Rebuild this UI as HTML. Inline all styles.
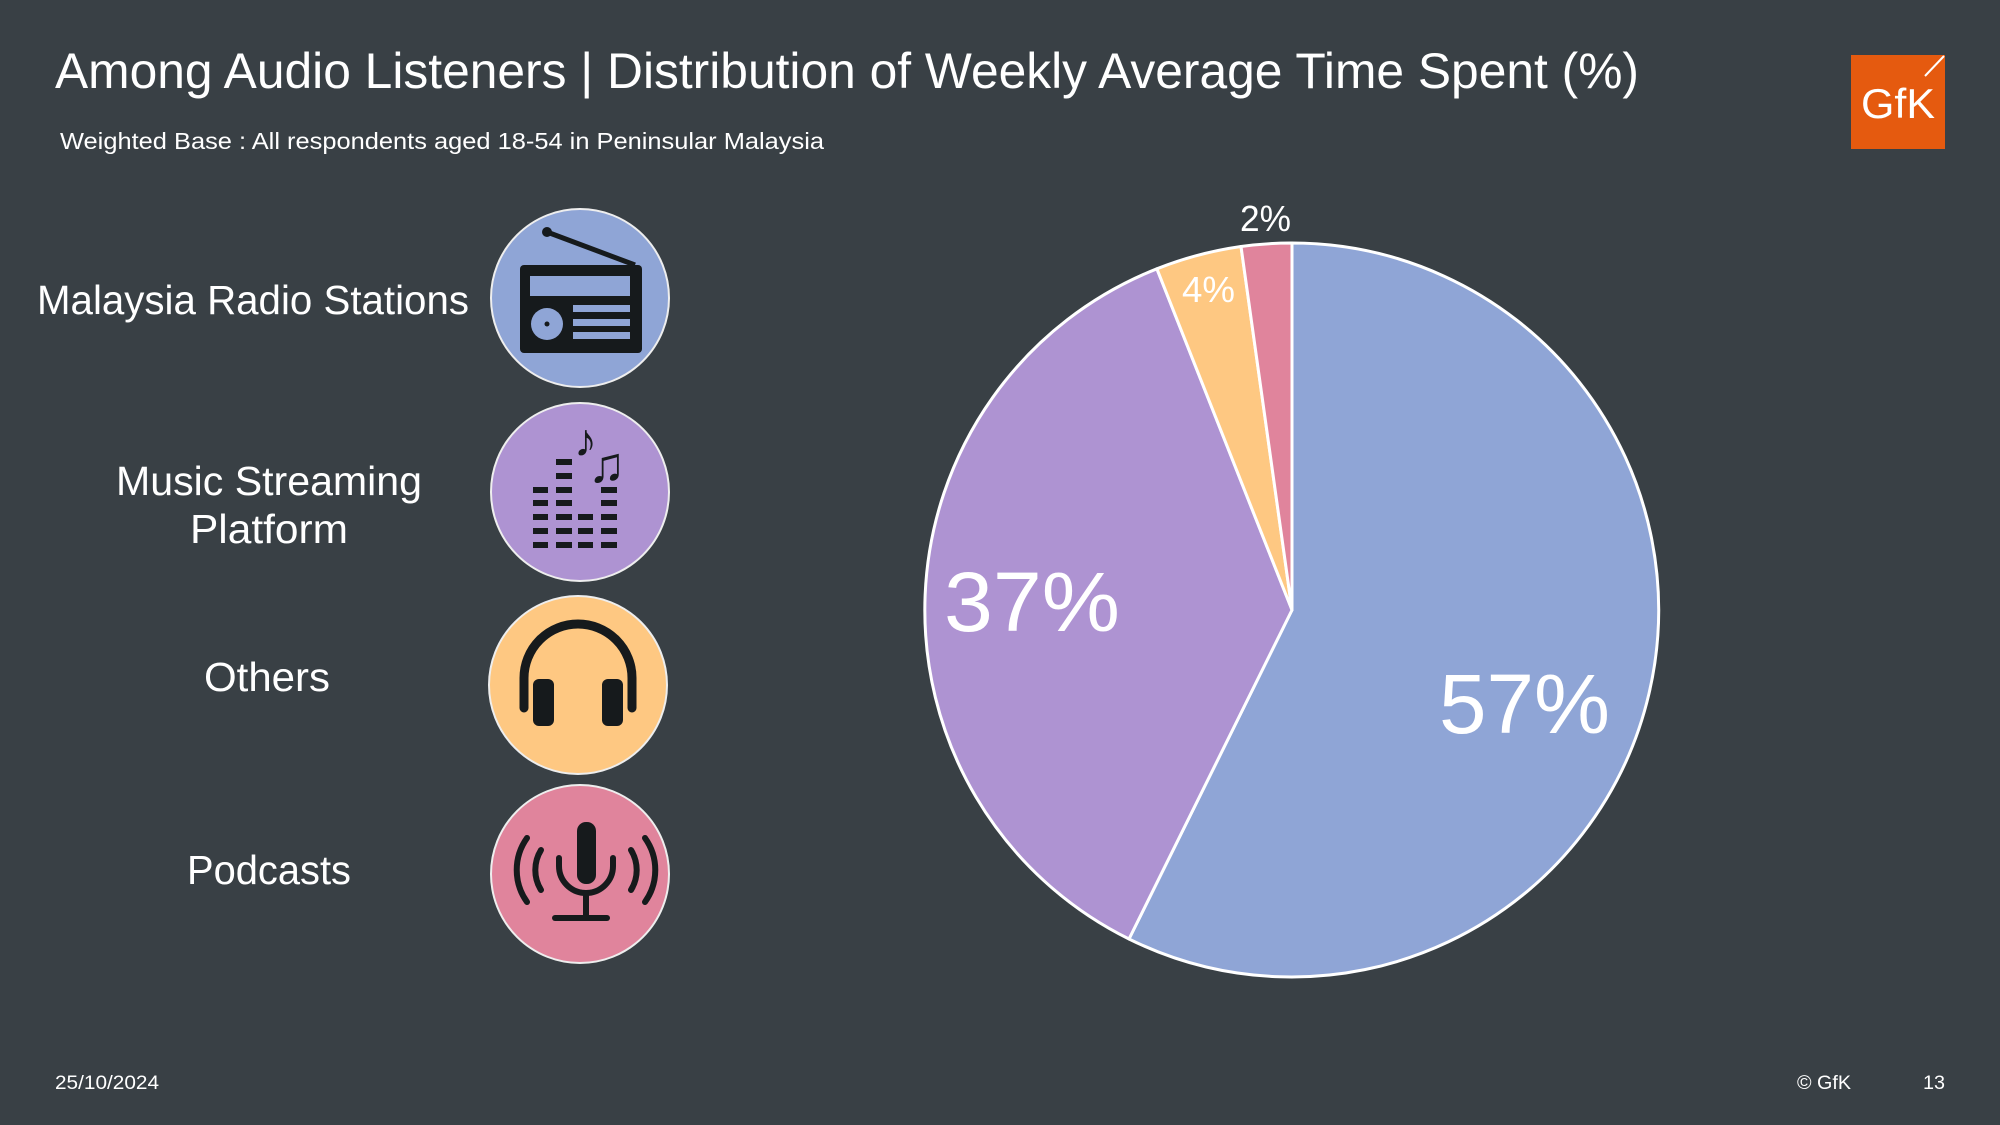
<!DOCTYPE html>
<html><head><meta charset="utf-8"><style>
html,body{margin:0;padding:0;background:#394045;}
svg{display:block;}
text{font-family:"Liberation Sans",sans-serif;fill:#fff;}
</style></head><body>
<svg width="2000" height="1125" viewBox="0 0 2000 1125" xmlns="http://www.w3.org/2000/svg">
<rect width="2000" height="1125" fill="#394045"/>
<text x="55" y="88" font-size="50" textLength="1584" lengthAdjust="spacingAndGlyphs">Among Audio Listeners | Distribution of Weekly Average Time Spent (%)</text>
<text x="60" y="149" font-size="23" textLength="764" lengthAdjust="spacingAndGlyphs">Weighted Base : All respondents aged 18-54 in Peninsular Malaysia</text>
<rect x="1851" y="55" width="94" height="94" fill="#e55a0f"/>
<text x="1898" y="118" font-size="42" text-anchor="middle" textLength="74" lengthAdjust="spacingAndGlyphs">GfK</text>
<path d="M1925 76 L1944 56" stroke="#fff" stroke-width="2"/>
<text x="37" y="314" font-size="41" textLength="432" lengthAdjust="spacingAndGlyphs">Malaysia Radio Stations</text>
<text x="116" y="495" font-size="41" textLength="306" lengthAdjust="spacingAndGlyphs">Music Streaming</text>
<text x="190" y="543" font-size="41" textLength="158" lengthAdjust="spacingAndGlyphs">Platform</text>
<text x="204" y="691" font-size="41" textLength="126" lengthAdjust="spacingAndGlyphs">Others</text>
<text x="187" y="884" font-size="41" textLength="164" lengthAdjust="spacingAndGlyphs">Podcasts</text>
<g stroke="#eee" stroke-width="2">
<circle cx="580" cy="298" r="89" fill="#8fa5d6"/>
<circle cx="580" cy="492" r="89" fill="#ae93d2"/>
<circle cx="578" cy="685" r="89" fill="#fec882"/>
<circle cx="580" cy="874" r="89" fill="#e0849c"/>
</g>
<g fill="#161a1c">
<line x1="547" y1="232" x2="635" y2="265" stroke="#161a1c" stroke-width="5"/>
<circle cx="547" cy="232" r="5"/>
<rect x="520" y="265" width="122" height="88" rx="4"/>
<rect x="530" y="276" width="100" height="20" fill="#8fa5d6"/>
<circle cx="547" cy="324" r="16" fill="#8fa5d6"/>
<circle cx="547" cy="324" r="2.5"/>
<rect x="573" y="305" width="57" height="7" fill="#8fa5d6"/>
<rect x="573" y="319" width="57" height="7" fill="#8fa5d6"/>
<rect x="573" y="332" width="57" height="7" fill="#8fa5d6"/>
</g>
<g fill="#161a1c">
<rect x="533" y="542" width="15" height="6"/><rect x="533" y="528" width="15" height="6"/><rect x="533" y="514" width="15" height="6"/><rect x="533" y="500" width="15" height="6"/><rect x="533" y="487" width="15" height="6"/>
<rect x="556" y="542" width="16" height="6"/><rect x="556" y="528" width="16" height="6"/><rect x="556" y="514" width="16" height="6"/><rect x="556" y="500" width="16" height="6"/><rect x="556" y="487" width="16" height="6"/><rect x="556" y="473" width="16" height="6"/><rect x="556" y="459" width="16" height="6"/>
<rect x="578" y="542" width="15" height="6"/><rect x="578" y="528" width="15" height="6"/><rect x="578" y="514" width="15" height="6"/>
<rect x="601" y="542" width="16" height="6"/><rect x="601" y="528" width="16" height="6"/><rect x="601" y="514" width="16" height="6"/><rect x="601" y="500" width="16" height="6"/><rect x="601" y="487" width="16" height="6"/>
<text x="574" y="456" font-size="46" style="fill:#161a1c" font-family="DejaVu Sans">♪</text>
<text x="588" y="482" font-size="50" style="fill:#161a1c" font-family="DejaVu Sans">♫</text>
</g>
<g>
<path d="M524 708 V678 A54 54 0 0 1 632 678 V708" fill="none" stroke="#161a1c" stroke-width="9" stroke-linecap="round"/>
<rect x="533" y="679" width="21" height="47" rx="6" fill="#161a1c"/>
<rect x="602" y="679" width="21" height="47" rx="6" fill="#161a1c"/>
</g>
<g fill="none" stroke="#161a1c" stroke-width="6" stroke-linecap="round">
<rect x="577" y="822" width="19" height="62" rx="9" fill="#161a1c" stroke="none"/>
<path d="M559 858 V866 A27 27 0 0 0 613 866 V858"/>
<line x1="586" y1="893" x2="586" y2="916"/>
<line x1="555" y1="918" x2="607" y2="918"/>
<path d="M541 850 A38 38 0 0 0 541 890"/>
<path d="M527 838 A55 55 0 0 0 527 902"/>
<path d="M631 850 A38 38 0 0 1 631 890"/>
<path d="M645 838 A55 55 0 0 1 645 902"/>
</g>
<g stroke="#fff" stroke-width="3" stroke-linejoin="round">
<path d="M1292 610 L1292 243 A367 367 0 1 1 1129 939 Z" fill="#8fa5d6"/>
<path d="M1292 610 L1129 939 A367 367 0 0 1 1156.9 268.8 Z" fill="#ae93d2"/>
<path d="M1292 610 L1156.9 268.8 A367 367 0 0 1 1241 246.5 Z" fill="#fec882"/>
<path d="M1292 610 L1241 246.5 A367 367 0 0 1 1292 243 Z" fill="#e0849c"/>
</g>
<text x="1439" y="733" font-size="84" textLength="171" lengthAdjust="spacingAndGlyphs">57%</text>
<text x="944" y="631" font-size="84" textLength="176" lengthAdjust="spacingAndGlyphs">37%</text>
<text x="1182" y="302" font-size="36" textLength="53" lengthAdjust="spacingAndGlyphs">4%</text>
<text x="1240" y="231" font-size="36" textLength="51" lengthAdjust="spacingAndGlyphs">2%</text>
<text x="55" y="1089" font-size="19" textLength="104" lengthAdjust="spacingAndGlyphs">25/10/2024</text>
<text x="1797" y="1089" font-size="19" textLength="54" lengthAdjust="spacingAndGlyphs">© GfK</text>
<text x="1923" y="1089" font-size="19" textLength="22" lengthAdjust="spacingAndGlyphs">13</text>
</svg>
</body></html>
